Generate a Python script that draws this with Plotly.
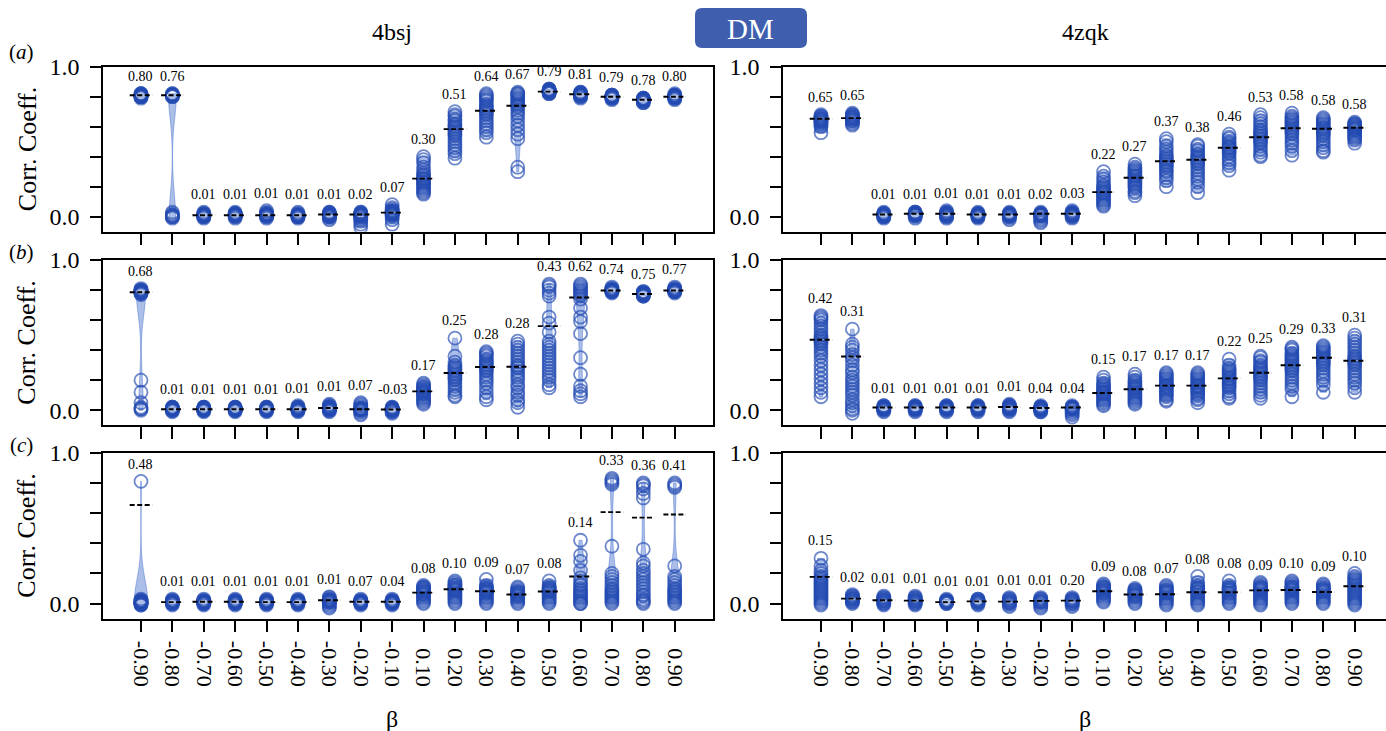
import plotly.graph_objects as go

# ---------------- data ----------------
BETAS = ["-0.90", "-0.80", "-0.70", "-0.60", "-0.50", "-0.40", "-0.30", "-0.20", "-0.10",
         "0.10", "0.20", "0.30", "0.40", "0.50", "0.60", "0.70", "0.80", "0.90"]
COLUMN_TITLES = ["4bsj", "4zqk"]
ROW_TAGS = ["a", "b", "c"]
Y_TICK_VALUES = [0.0, 0.2, 0.4, 0.6, 0.8, 1.0]
Y_TICK_TEXT = ["0.0", "", "", "", "", "1.0"]

# row (a), 4bsj
A_4BSJ_POINTS = [
    [0.79, 0.80, 0.80, 0.81, 0.81, 0.81, 0.81, 0.82, 0.82, 0.80, 0.81, 0.81, 0.80, 0.82, 0.81, 0.80],
    [0.80, 0.81, 0.81, 0.81, 0.82, 0.81, 0.80, 0.81, 0.82, 0.81, 0.00, 0.01, -0.01, 0.02, 0.00, 0.01, 0.00, 0.03],
    [0.00, 0.01, 0.01, 0.02, 0.01, 0.00, 0.01, 0.02, 0.01, -0.01, 0.01, 0.03, 0.01, 0.00, 0.02],
    [0.01, 0.01, 0.02, 0.01, 0.00, 0.02, 0.01, 0.03, 0.01, 0.00, 0.02, 0.01, -0.01, 0.01, 0.02],
    [0.01, 0.02, 0.01, 0.00, 0.02, 0.01, 0.03, 0.01, 0.00, 0.02, 0.01, -0.01, 0.01, 0.02, 0.04],
    [0.00, 0.01, 0.01, 0.00, 0.02, 0.01, -0.01, 0.01, 0.00, 0.02, 0.01, 0.01, 0.00, 0.03, 0.01],
    [0.01, 0.02, 0.01, 0.00, 0.02, 0.03, -0.01, 0.01, 0.00, 0.02, 0.01, -0.02, 0.01, 0.03, 0.01, 0.00, 0.02],
    [0.02, 0.01, 0.00, -0.01, 0.02, 0.03, -0.03, 0.01, 0.00, -0.05, 0.02, 0.01, -0.07, 0.01, 0.03, -0.02, 0.02],
    [0.03, 0.02, 0.04, 0.01, 0.06, 0.02, 0.03, 0.00, 0.05, -0.02, 0.03, 0.02, 0.08, 0.01, -0.05, 0.04, 0.02, 0.03],
    [0.40, 0.38, 0.36, 0.33, 0.31, 0.29, 0.28, 0.27, 0.26, 0.25, 0.25, 0.24, 0.23, 0.23, 0.22, 0.21, 0.20, 0.19, 0.18, 0.17, 0.16, 0.15],
    [0.70, 0.68, 0.67, 0.65, 0.64, 0.62, 0.61, 0.60, 0.59, 0.58, 0.57, 0.56, 0.55, 0.54, 0.52, 0.50, 0.48, 0.46, 0.44, 0.42, 0.39],
    [0.82, 0.81, 0.80, 0.79, 0.78, 0.77, 0.75, 0.74, 0.73, 0.72, 0.71, 0.70, 0.69, 0.68, 0.66, 0.64, 0.62, 0.60, 0.58, 0.56, 0.53],
    [0.83, 0.82, 0.82, 0.81, 0.80, 0.79, 0.78, 0.77, 0.76, 0.75, 0.74, 0.73, 0.71, 0.69, 0.67, 0.64, 0.61, 0.58, 0.55, 0.52, 0.33, 0.30],
    [0.82, 0.83, 0.83, 0.84, 0.84, 0.84, 0.85, 0.83, 0.84, 0.82, 0.85, 0.83, 0.84, 0.83, 0.85],
    [0.80, 0.81, 0.81, 0.82, 0.82, 0.82, 0.83, 0.81, 0.82, 0.80, 0.83, 0.82, 0.81, 0.79, 0.82],
    [0.79, 0.80, 0.80, 0.80, 0.81, 0.79, 0.80, 0.81, 0.80, 0.78, 0.80, 0.81, 0.79, 0.80, 0.81],
    [0.77, 0.78, 0.78, 0.78, 0.79, 0.77, 0.78, 0.79, 0.78, 0.76, 0.78, 0.79, 0.77, 0.78, 0.76],
    [0.79, 0.80, 0.80, 0.80, 0.81, 0.79, 0.80, 0.81, 0.80, 0.78, 0.80, 0.81, 0.79, 0.80, 0.82],
]
A_4BSJ_LINE = [0.81, 0.81, 0.01, 0.01, 0.01, 0.01, 0.015, 0.015, 0.027, 0.254, 0.584, 0.706,
               0.74, 0.834, 0.816, 0.80, 0.78, 0.80]
A_4BSJ_LABEL = ["0.80", "0.76", "0.01", "0.01", "0.01", "0.01", "0.01", "0.02", "0.07",
                "0.30", "0.51", "0.64", "0.67", "0.79", "0.81", "0.79", "0.78", "0.80"]

# row (a), 4zqk
A_4ZQK_POINTS = [
    [0.68, 0.67, 0.67, 0.66, 0.66, 0.65, 0.65, 0.65, 0.64, 0.64, 0.63, 0.63, 0.62, 0.61, 0.60, 0.56],
    [0.69, 0.68, 0.68, 0.67, 0.67, 0.66, 0.66, 0.66, 0.65, 0.65, 0.64, 0.64, 0.63, 0.62, 0.61],
    [0.03, 0.02, 0.02, 0.01, 0.01, 0.01, 0.00, 0.01, 0.02, 0.00, -0.01, 0.01, 0.02, 0.01, 0.00],
    [0.03, 0.03, 0.02, 0.02, 0.01, 0.01, 0.02, 0.00, 0.01, 0.02, -0.01, 0.01, 0.02, 0.01, 0.03],
    [0.04, 0.03, 0.02, 0.02, 0.01, 0.01, 0.02, 0.00, 0.01, 0.02, -0.01, 0.01, 0.02, 0.03, 0.00],
    [0.03, 0.02, 0.02, 0.01, 0.01, 0.01, 0.00, 0.01, 0.02, 0.00, -0.01, 0.01, 0.02, 0.01, 0.00],
    [0.03, 0.02, 0.02, 0.01, 0.01, 0.01, 0.00, 0.01, 0.02, 0.00, -0.02, 0.01, 0.02, 0.01, -0.01],
    [0.03, 0.02, 0.02, 0.01, 0.01, 0.01, 0.00, 0.01, 0.02, -0.02, -0.04, 0.01, 0.02, -0.01, -0.03],
    [0.04, 0.03, 0.02, 0.02, 0.01, 0.01, 0.02, 0.00, 0.01, 0.02, -0.01, 0.01, 0.02, 0.03, 0.00],
    [0.30, 0.27, 0.25, 0.23, 0.21, 0.20, 0.19, 0.18, 0.17, 0.16, 0.16, 0.15, 0.14, 0.13, 0.12, 0.11, 0.10, 0.09, 0.08, 0.07],
    [0.35, 0.33, 0.32, 0.31, 0.30, 0.29, 0.28, 0.27, 0.27, 0.26, 0.25, 0.24, 0.23, 0.22, 0.21, 0.20, 0.19, 0.17, 0.16, 0.14],
    [0.52, 0.50, 0.47, 0.45, 0.43, 0.41, 0.40, 0.39, 0.38, 0.37, 0.36, 0.35, 0.34, 0.33, 0.31, 0.30, 0.28, 0.26, 0.24, 0.20],
    [0.48, 0.47, 0.45, 0.44, 0.42, 0.41, 0.40, 0.39, 0.38, 0.37, 0.36, 0.35, 0.33, 0.31, 0.29, 0.27, 0.25, 0.23, 0.20, 0.16],
    [0.55, 0.53, 0.52, 0.50, 0.49, 0.48, 0.47, 0.46, 0.46, 0.45, 0.44, 0.43, 0.42, 0.40, 0.38, 0.36, 0.34, 0.31],
    [0.68, 0.66, 0.64, 0.62, 0.60, 0.58, 0.57, 0.56, 0.55, 0.54, 0.53, 0.52, 0.51, 0.50, 0.49, 0.47, 0.45, 0.43, 0.41, 0.40],
    [0.69, 0.67, 0.66, 0.65, 0.64, 0.63, 0.62, 0.61, 0.60, 0.59, 0.58, 0.57, 0.56, 0.55, 0.53, 0.51, 0.49, 0.47, 0.44, 0.41],
    [0.66, 0.65, 0.64, 0.63, 0.62, 0.61, 0.60, 0.59, 0.59, 0.58, 0.57, 0.56, 0.55, 0.54, 0.52, 0.50, 0.48, 0.46, 0.44, 0.43],
    [0.63, 0.62, 0.62, 0.61, 0.61, 0.60, 0.60, 0.59, 0.59, 0.58, 0.58, 0.57, 0.56, 0.55, 0.54, 0.53, 0.52, 0.51, 0.49],
]
A_4ZQK_LINE = [0.653, 0.657, 0.015, 0.02, 0.02, 0.015, 0.015, 0.02, 0.02, 0.164, 0.26, 0.37,
               0.38, 0.46, 0.53, 0.59, 0.586, 0.593]
A_4ZQK_LABEL = ["0.65", "0.65", "0.01", "0.01", "0.01", "0.01", "0.01", "0.02", "0.03",
                "0.22", "0.27", "0.37", "0.38", "0.46", "0.53", "0.58", "0.58", "0.58"]

# row (b), 4bsj
B_4BSJ_POINTS = [
    [0.81, 0.80, 0.80, 0.79, 0.79, 0.79, 0.78, 0.78, 0.78, 0.77, 0.79, 0.80, 0.78, 0.79, 0.20, 0.12, 0.05, 0.02, 0.01, 0.00, 0.01],
    [0.01, 0.00, 0.01, 0.02, 0.00, 0.01, 0.01, -0.01, 0.01, 0.02, 0.00, 0.01, 0.01, 0.00, 0.02],
    [0.01, 0.00, 0.01, 0.02, 0.00, 0.01, 0.01, -0.01, 0.01, 0.02, 0.00, 0.01, 0.02, 0.00, 0.01],
    [0.01, 0.00, 0.01, 0.02, 0.00, 0.01, 0.01, -0.01, 0.01, 0.02, 0.00, 0.01, 0.01, 0.00, 0.02],
    [0.01, 0.00, 0.01, 0.02, 0.00, 0.01, 0.01, -0.01, 0.01, 0.02, 0.00, 0.01, 0.02, 0.00, 0.01],
    [0.01, 0.00, 0.01, 0.02, 0.00, 0.01, 0.02, -0.01, 0.01, 0.02, 0.00, 0.01, 0.01, 0.00, 0.03],
    [0.01, 0.02, 0.01, 0.03, 0.00, 0.02, 0.02, -0.01, 0.01, 0.03, 0.00, 0.01, 0.02, 0.00, 0.04],
    [0.01, 0.00, 0.01, 0.05, 0.00, 0.01, 0.04, -0.01, 0.01, 0.02, -0.02, 0.01, -0.03, 0.00, 0.03],
    [0.01, 0.00, 0.01, 0.02, 0.00, -0.01, 0.01, -0.02, 0.01, 0.02, 0.00, 0.01, -0.01, 0.00, 0.01],
    [0.18, 0.17, 0.16, 0.15, 0.15, 0.14, 0.13, 0.13, 0.12, 0.12, 0.11, 0.11, 0.10, 0.09, 0.08, 0.07, 0.06, 0.05, 0.04],
    [0.48, 0.36, 0.32, 0.30, 0.29, 0.28, 0.27, 0.26, 0.25, 0.24, 0.23, 0.22, 0.21, 0.20, 0.18, 0.16, 0.14, 0.12, 0.10, 0.09],
    [0.39, 0.38, 0.37, 0.36, 0.34, 0.33, 0.32, 0.31, 0.30, 0.29, 0.28, 0.27, 0.26, 0.24, 0.22, 0.20, 0.18, 0.15, 0.12, 0.09, 0.07],
    [0.46, 0.44, 0.42, 0.40, 0.38, 0.36, 0.34, 0.32, 0.30, 0.29, 0.28, 0.26, 0.24, 0.22, 0.20, 0.17, 0.15, 0.12, 0.10, 0.07, 0.05, 0.02],
    [0.84, 0.83, 0.82, 0.80, 0.78, 0.76, 0.62, 0.58, 0.52, 0.46, 0.44, 0.42, 0.40, 0.38, 0.36, 0.34, 0.32, 0.30, 0.28, 0.26, 0.24, 0.22, 0.20, 0.17, 0.15],
    [0.84, 0.83, 0.82, 0.81, 0.80, 0.79, 0.78, 0.77, 0.76, 0.74, 0.68, 0.62, 0.59, 0.51, 0.35, 0.24, 0.16, 0.13, 0.11, 0.09],
    [0.78, 0.79, 0.79, 0.80, 0.80, 0.80, 0.81, 0.79, 0.80, 0.81, 0.80, 0.79, 0.82, 0.80, 0.79],
    [0.76, 0.77, 0.77, 0.78, 0.78, 0.78, 0.79, 0.77, 0.78, 0.76, 0.78, 0.79, 0.77, 0.78, 0.76],
    [0.78, 0.79, 0.79, 0.80, 0.80, 0.80, 0.81, 0.79, 0.80, 0.81, 0.80, 0.79, 0.82, 0.80, 0.79],
]
B_4BSJ_LINE = [0.785, 0.007, 0.007, 0.007, 0.007, 0.007, 0.015, 0.007, 0.005, 0.126, 0.248,
               0.288, 0.29, 0.56, 0.75, 0.797, 0.774, 0.797]
B_4BSJ_LABEL = ["0.68", "0.01", "0.01", "0.01", "0.01", "0.01", "0.01", "0.07", "-0.03",
                "0.17", "0.25", "0.28", "0.28", "0.43", "0.62", "0.74", "0.75", "0.77"]

# row (b), 4zqk
B_4ZQK_POINTS = [
    [0.63, 0.62, 0.61, 0.60, 0.58, 0.56, 0.54, 0.52, 0.50, 0.49, 0.48, 0.47, 0.46, 0.45, 0.44, 0.42, 0.40, 0.38, 0.36, 0.33, 0.30, 0.27, 0.24, 0.21, 0.18, 0.15, 0.12, 0.09],
    [0.54, 0.44, 0.42, 0.40, 0.37, 0.35, 0.33, 0.30, 0.27, 0.25, 0.22, 0.20, 0.18, 0.16, 0.14, 0.12, 0.10, 0.07, 0.05, 0.03, 0.01, 0.00, -0.02],
    [0.03, 0.02, 0.02, 0.01, 0.01, 0.02, 0.00, 0.01, 0.02, 0.00, -0.01, 0.01, 0.02, 0.01, 0.03],
    [0.03, 0.02, 0.02, 0.01, 0.01, 0.02, 0.00, 0.01, 0.02, 0.00, -0.01, 0.01, 0.02, 0.01, 0.03],
    [0.03, 0.02, 0.02, 0.01, 0.01, 0.02, 0.00, 0.01, 0.02, 0.00, -0.01, 0.01, 0.02, 0.01, 0.03],
    [0.03, 0.02, 0.02, 0.01, 0.01, 0.02, 0.00, 0.01, 0.02, 0.00, -0.01, 0.01, 0.02, 0.01, 0.03],
    [0.04, 0.03, 0.02, 0.02, 0.01, 0.02, 0.00, 0.01, 0.03, 0.00, -0.01, 0.01, 0.02, 0.02, 0.03],
    [0.03, 0.02, 0.02, 0.01, 0.01, 0.02, 0.00, 0.01, 0.02, 0.00, -0.01, 0.01, 0.02, -0.01, 0.00],
    [0.03, 0.02, 0.02, 0.01, 0.01, 0.02, 0.00, 0.01, 0.02, -0.02, -0.03, 0.01, 0.02, -0.01, -0.045],
    [0.22, 0.20, 0.18, 0.17, 0.16, 0.15, 0.14, 0.13, 0.12, 0.12, 0.11, 0.11, 0.10, 0.09, 0.08, 0.07, 0.06, 0.05, 0.04, 0.03],
    [0.24, 0.22, 0.20, 0.19, 0.18, 0.17, 0.16, 0.15, 0.15, 0.14, 0.13, 0.12, 0.11, 0.10, 0.09, 0.08, 0.07, 0.06, 0.05, 0.04],
    [0.25, 0.24, 0.23, 0.22, 0.21, 0.20, 0.19, 0.18, 0.17, 0.16, 0.16, 0.15, 0.14, 0.13, 0.12, 0.11, 0.10, 0.09, 0.07, 0.06],
    [0.25, 0.24, 0.23, 0.22, 0.21, 0.20, 0.19, 0.18, 0.17, 0.16, 0.16, 0.15, 0.14, 0.13, 0.12, 0.11, 0.10, 0.08, 0.07, 0.05],
    [0.34, 0.30, 0.28, 0.27, 0.26, 0.25, 0.24, 0.23, 0.22, 0.21, 0.21, 0.20, 0.19, 0.18, 0.17, 0.16, 0.15, 0.13, 0.11, 0.09, 0.08],
    [0.36, 0.35, 0.33, 0.32, 0.30, 0.29, 0.28, 0.27, 0.26, 0.25, 0.24, 0.23, 0.22, 0.21, 0.20, 0.18, 0.16, 0.14, 0.12, 0.10, 0.08],
    [0.42, 0.41, 0.40, 0.38, 0.37, 0.36, 0.35, 0.34, 0.33, 0.32, 0.31, 0.30, 0.29, 0.28, 0.27, 0.26, 0.24, 0.22, 0.20, 0.18, 0.16, 0.14, 0.09],
    [0.43, 0.42, 0.41, 0.40, 0.39, 0.38, 0.37, 0.36, 0.35, 0.34, 0.33, 0.32, 0.31, 0.30, 0.28, 0.26, 0.24, 0.22, 0.20, 0.17, 0.12],
    [0.50, 0.48, 0.46, 0.44, 0.42, 0.40, 0.38, 0.36, 0.35, 0.34, 0.33, 0.32, 0.31, 0.30, 0.28, 0.26, 0.24, 0.22, 0.20, 0.18, 0.15, 0.12],
]
B_4ZQK_LINE = [0.469, 0.358, 0.018, 0.018, 0.018, 0.018, 0.022, 0.015, 0.018, 0.115, 0.14,
               0.164, 0.164, 0.212, 0.25, 0.30, 0.35, 0.33]
B_4ZQK_LABEL = ["0.42", "0.31", "0.01", "0.01", "0.01", "0.01", "0.01", "0.04", "0.04",
                "0.15", "0.17", "0.17", "0.17", "0.22", "0.25", "0.29", "0.33", "0.31"]

# row (c), 4bsj
C_4BSJ_POINTS = [
    [0.81, 0.03, 0.02, 0.02, 0.01, 0.01, 0.01, 0.00, 0.00, 0.00, 0.00, -0.01, 0.01, 0.00, 0.02, 0.01, 0.00, -0.01, 0.01, 0.00],
    [0.02, 0.01, 0.01, 0.00, 0.01, 0.02, 0.00, 0.01, 0.01, -0.01, 0.01, 0.02, 0.00, 0.01, 0.03],
    [0.02, 0.01, 0.01, 0.00, 0.01, 0.02, 0.00, 0.01, 0.01, -0.01, 0.01, 0.02, 0.00, 0.01, 0.03],
    [0.02, 0.01, 0.01, 0.00, 0.01, 0.02, 0.00, 0.01, 0.01, -0.01, 0.01, 0.02, 0.00, 0.01, 0.03],
    [0.02, 0.01, 0.01, 0.00, 0.01, 0.02, 0.00, 0.01, 0.01, -0.01, 0.01, 0.02, 0.00, 0.01, 0.03],
    [0.02, 0.01, 0.01, 0.00, 0.01, 0.02, 0.00, 0.01, 0.01, -0.01, 0.01, 0.02, 0.00, 0.01, 0.03],
    [0.045, 0.03, 0.02, 0.02, 0.01, 0.03, 0.00, 0.01, 0.02, -0.01, -0.02, 0.02, -0.03, 0.01, 0.04],
    [0.02, 0.01, 0.01, 0.00, 0.01, 0.02, 0.00, 0.01, 0.01, -0.01, 0.01, 0.02, 0.00, 0.01, 0.03],
    [0.02, 0.01, 0.01, 0.00, 0.01, 0.02, 0.00, 0.01, 0.01, -0.01, 0.01, 0.02, 0.00, 0.01, 0.03],
    [0.12, 0.11, 0.11, 0.10, 0.10, 0.09, 0.09, 0.08, 0.08, 0.07, 0.07, 0.06, 0.06, 0.05, 0.04, 0.03, 0.02, 0.01, 0.00],
    [0.15, 0.14, 0.13, 0.12, 0.12, 0.11, 0.10, 0.10, 0.09, 0.09, 0.08, 0.07, 0.06, 0.05, 0.04, 0.03, 0.02, 0.01, 0.00],
    [0.16, 0.12, 0.11, 0.10, 0.10, 0.09, 0.09, 0.08, 0.08, 0.07, 0.07, 0.06, 0.05, 0.04, 0.03, 0.02, 0.01, 0.00],
    [0.11, 0.10, 0.09, 0.08, 0.08, 0.07, 0.07, 0.06, 0.06, 0.05, 0.05, 0.04, 0.03, 0.02, 0.01, 0.00],
    [0.15, 0.12, 0.11, 0.10, 0.10, 0.09, 0.09, 0.08, 0.08, 0.07, 0.06, 0.05, 0.04, 0.03, 0.02, 0.01, 0.00],
    [0.42, 0.32, 0.28, 0.22, 0.17, 0.15, 0.13, 0.12, 0.10, 0.09, 0.08, 0.07, 0.06, 0.05, 0.04, 0.03, 0.02, 0.01, 0.00, 0.00],
    [0.83, 0.82, 0.81, 0.80, 0.79, 0.38, 0.20, 0.18, 0.16, 0.14, 0.12, 0.10, 0.09, 0.08, 0.07, 0.06, 0.05, 0.04, 0.03, 0.02, 0.01, 0.00],
    [0.80, 0.79, 0.78, 0.76, 0.73, 0.70, 0.36, 0.27, 0.25, 0.22, 0.20, 0.18, 0.16, 0.14, 0.12, 0.10, 0.08, 0.06, 0.05, 0.03, 0.02, 0.01, 0.00],
    [0.80, 0.79, 0.78, 0.77, 0.25, 0.18, 0.16, 0.14, 0.12, 0.10, 0.09, 0.08, 0.07, 0.06, 0.05, 0.04, 0.03, 0.02, 0.01, 0.00],
]
C_4BSJ_LINE = [0.653, 0.01, 0.012, 0.012, 0.01, 0.01, 0.022, 0.012, 0.012, 0.073, 0.095,
               0.082, 0.06, 0.08, 0.18, 0.606, 0.57, 0.59]
C_4BSJ_LABEL = ["0.48", "0.01", "0.01", "0.01", "0.01", "0.01", "0.01", "0.07", "0.04",
                "0.08", "0.10", "0.09", "0.07", "0.08", "0.14", "0.33", "0.36", "0.41"]

# row (c), 4zqk
C_4ZQK_POINTS = [
    [0.30, 0.25, 0.22, 0.20, 0.18, 0.17, 0.16, 0.15, 0.14, 0.13, 0.12, 0.11, 0.10, 0.09, 0.08, 0.07, 0.06, 0.05, 0.04, 0.03, 0.02, 0.01, 0.00, -0.01],
    [0.06, 0.05, 0.05, 0.04, 0.04, 0.03, 0.03, 0.03, 0.02, 0.02, 0.01, 0.01, 0.00],
    [0.05, 0.04, 0.04, 0.03, 0.03, 0.02, 0.02, 0.02, 0.01, 0.01, 0.00, 0.00, -0.01],
    [0.05, 0.04, 0.04, 0.03, 0.03, 0.02, 0.02, 0.02, 0.01, 0.01, 0.00, 0.00, -0.01],
    [0.03, 0.02, 0.02, 0.01, 0.01, 0.01, 0.00, 0.00, 0.01, 0.02],
    [0.03, 0.03, 0.02, 0.02, 0.01, 0.01, 0.00, 0.00, 0.01, 0.02, -0.01],
    [0.04, 0.03, 0.03, 0.02, 0.02, 0.01, 0.01, 0.00, 0.00, -0.01, -0.02, 0.01],
    [0.04, 0.03, 0.03, 0.02, 0.02, 0.01, 0.01, 0.00, -0.01, -0.02, -0.03, 0.01],
    [0.04, 0.03, 0.03, 0.02, 0.02, 0.01, 0.01, 0.00, 0.00, -0.01, -0.02, 0.02],
    [0.13, 0.12, 0.11, 0.11, 0.10, 0.10, 0.09, 0.09, 0.08, 0.08, 0.07, 0.07, 0.06, 0.05, 0.04, 0.03, 0.02, 0.01],
    [0.10, 0.09, 0.09, 0.08, 0.08, 0.07, 0.07, 0.06, 0.06, 0.05, 0.05, 0.04, 0.03, 0.02, 0.01, 0.00],
    [0.12, 0.11, 0.10, 0.09, 0.09, 0.08, 0.08, 0.07, 0.07, 0.06, 0.05, 0.04, 0.03, 0.02, 0.01, 0.00, -0.01],
    [0.18, 0.14, 0.12, 0.11, 0.10, 0.10, 0.09, 0.08, 0.08, 0.07, 0.06, 0.05, 0.04, 0.03, 0.02, 0.01, 0.00, -0.01],
    [0.15, 0.12, 0.11, 0.10, 0.10, 0.09, 0.09, 0.08, 0.07, 0.07, 0.06, 0.05, 0.04, 0.03, 0.02, 0.01, 0.00],
    [0.14, 0.13, 0.12, 0.11, 0.11, 0.10, 0.10, 0.09, 0.09, 0.08, 0.07, 0.06, 0.05, 0.04, 0.03, 0.02, 0.01, 0.00, -0.01],
    [0.15, 0.14, 0.13, 0.12, 0.11, 0.11, 0.10, 0.10, 0.09, 0.09, 0.08, 0.07, 0.06, 0.05, 0.04, 0.03, 0.02, 0.01, 0.00],
    [0.13, 0.12, 0.11, 0.10, 0.10, 0.09, 0.09, 0.08, 0.08, 0.07, 0.06, 0.05, 0.04, 0.03, 0.02, 0.01, 0.00],
    [0.20, 0.18, 0.17, 0.16, 0.15, 0.14, 0.13, 0.12, 0.11, 0.10, 0.09, 0.08, 0.07, 0.06, 0.05, 0.04, 0.03, 0.02, 0.01, 0.00, -0.01],
]
C_4ZQK_LINE = [0.177, 0.033, 0.022, 0.02, 0.01, 0.015, 0.013, 0.018, 0.02, 0.082, 0.06,
               0.062, 0.075, 0.075, 0.088, 0.09, 0.077, 0.115]
C_4ZQK_LABEL = ["0.15", "0.02", "0.01", "0.01", "0.01", "0.01", "0.01", "0.01", "0.20",
                "0.09", "0.08", "0.07", "0.08", "0.08", "0.09", "0.10", "0.09", "0.10"]

PANELS = [
    (0, 0, A_4BSJ_POINTS, A_4BSJ_LINE, A_4BSJ_LABEL),
    (0, 1, A_4ZQK_POINTS, A_4ZQK_LINE, A_4ZQK_LABEL),
    (1, 0, B_4BSJ_POINTS, B_4BSJ_LINE, B_4BSJ_LABEL),
    (1, 1, B_4ZQK_POINTS, B_4ZQK_LINE, B_4ZQK_LABEL),
    (2, 0, C_4BSJ_POINTS, C_4BSJ_LINE, C_4BSJ_LABEL),
    (2, 1, C_4ZQK_POINTS, C_4ZQK_LINE, C_4ZQK_LABEL),
]

# ---------------- layout geometry (pixels) ----------------
W, H = 1386, 731
FONT = "Liberation Serif"
POINT_COLOR = "rgba(35,75,178,0.66)"
VIOLIN_COLOR = "rgba(55,100,200,0.42)"


def px(x):
    return x / W


def py(y):
    return 1 - y / H


COL_X = [(103, 712.7), (783, 1386)]
COL_RANGE = [(-1.21, 18.21), (-1.21, 17.997)]
ROW_Y = [(66.7, 231.7), (260, 425.3), (452.7, 618.7)]
COL_TITLE_X = [392, 1085]

fig = go.Figure()
layout = dict(
    width=W, height=H, margin=dict(l=0, r=0, t=0, b=0, autoexpand=False),
    paper_bgcolor="white", plot_bgcolor="white",
    font=dict(family=FONT, color="black"),
    showlegend=False,
)
annotations = []

tick_positions = list(range(len(BETAS)))
tick_text = [b if b.startswith("-") else "\u2004" + b for b in BETAS]

for row, col, points, line_vals, labels in PANELS:
    k = row * 2 + col + 1
    xa = "x" if k == 1 else f"x{k}"
    ya = "y" if k == 1 else f"y{k}"
    xs, ys = [], []
    for i, vals in enumerate(points):
        xs += [i] * len(vals)
        ys += vals
    fig.add_trace(go.Violin(
        x=xs, y=ys, xaxis=xa, yaxis=ya, width=0.45, bandwidth=0.15, spanmode="hard",
        points=False, fillcolor=VIOLIN_COLOR, line=dict(color=VIOLIN_COLOR, width=1),
        box_visible=False, meanline_visible=False, scalemode="width", hoverinfo="skip",
    ))
    fig.add_trace(go.Scatter(
        x=xs, y=ys, xaxis=xa, yaxis=ya, mode="markers", hoverinfo="skip",
        marker=dict(symbol="circle-open", size=13, color=POINT_COLOR, line=dict(width=1.8)),
    ))
    lx, ly = [], []
    for i, m in enumerate(line_vals):
        lx += [i - 0.36, i + 0.36, None]
        ly += [m, m, None]
    fig.add_trace(go.Scatter(
        x=lx, y=ly, xaxis=xa, yaxis=ya, mode="lines", hoverinfo="skip",
        line=dict(color="black", width=1.9, dash="5px,2.5px"),
    ))
    for i, (vals, lab) in enumerate(zip(points, labels)):
        annotations.append(dict(
            x=i, y=max(vals) + 0.115, xref=xa, yref=ya, text=lab, showarrow=False,
            font=dict(size=14, family=FONT), xanchor="center", yanchor="middle",
        ))

    x0, x1 = COL_X[col]
    y0, y1 = ROW_Y[row]
    layout["xaxis" if k == 1 else f"xaxis{k}"] = dict(
        domain=[px(x0), px(x1)], range=list(COL_RANGE[col]), anchor=ya, automargin=False,
        tickmode="array", tickvals=tick_positions, ticktext=tick_text,
        showticklabels=(row == 2), tickangle=90, tickfont=dict(size=22, family=FONT),
        ticks="outside", ticklen=12, tickwidth=2, tickcolor="black",
        showline=True, linecolor="black", linewidth=1.5, mirror=True,
        showgrid=False, zeroline=False, ticklabelstandoff=4,
    )
    layout["yaxis" if k == 1 else f"yaxis{k}"] = dict(
        domain=[py(y1), py(y0)], range=[-0.1, 1.0], anchor=xa, automargin=False,
        tickmode="array", tickvals=Y_TICK_VALUES, ticktext=Y_TICK_TEXT,
        tickfont=dict(size=24, family=FONT),
        ticks="outside", ticklen=11, tickwidth=2, tickcolor="black",
        showline=True, linecolor="black", linewidth=1.5, mirror=(col == 0),
        showgrid=False, zeroline=False, ticklabelstandoff=6,
    )

# column titles, x-axis titles
for col, title in enumerate(COLUMN_TITLES):
    annotations.append(dict(x=px(COL_TITLE_X[col]), y=py(32), xref="paper", yref="paper",
                            text=title, showarrow=False, font=dict(size=24, family=FONT),
                            xanchor="center", yanchor="middle"))
    annotations.append(dict(x=px(COL_TITLE_X[col]), y=py(719), xref="paper", yref="paper",
                            text="β", showarrow=False, font=dict(size=24, family=FONT),
                            xanchor="center", yanchor="middle"))

# row tags and y titles
ROW_TAG_Y = [52, 252, 445]
for row, tag in enumerate(ROW_TAGS):
    annotations.append(dict(x=px(21), y=py(ROW_TAG_Y[row]), xref="paper", yref="paper",
                            text=f"(<i>{tag}</i>)", showarrow=False,
                            font=dict(size=21, family=FONT), xanchor="center", yanchor="middle"))
    y0, y1 = ROW_Y[row]
    annotations.append(dict(x=px(27), y=py((y0 + y1) / 2), xref="paper", yref="paper",
                            text="Corr. Coeff.", showarrow=False, textangle=-90,
                            font=dict(size=26, family=FONT), xanchor="center", yanchor="middle"))

# DM badge
bx0, bx1, by0, by1, r = px(695), px(807), py(48), py(8), 7
rx, ry = r / W, r / H
badge_path = (f"M {bx0+rx},{by1} L {bx1-rx},{by1} Q {bx1},{by1} {bx1},{by1-ry} "
              f"L {bx1},{by0+ry} Q {bx1},{by0} {bx1-rx},{by0} L {bx0+rx},{by0} "
              f"Q {bx0},{by0} {bx0},{by0+ry} L {bx0},{by1-ry} Q {bx0},{by1} {bx0+rx},{by1} Z")
layout["shapes"] = [dict(type="path", path=badge_path, xref="paper", yref="paper",
                         fillcolor="#3f5fae", line=dict(width=0), layer="above")]
annotations.append(dict(x=px(751), y=py(29), xref="paper", yref="paper", text="DM",
                        showarrow=False, font=dict(size=29, family=FONT, color="white"),
                        xanchor="center", yanchor="middle"))

layout["annotations"] = annotations
fig.update_layout(**layout)
fig.write_html("out.html")
